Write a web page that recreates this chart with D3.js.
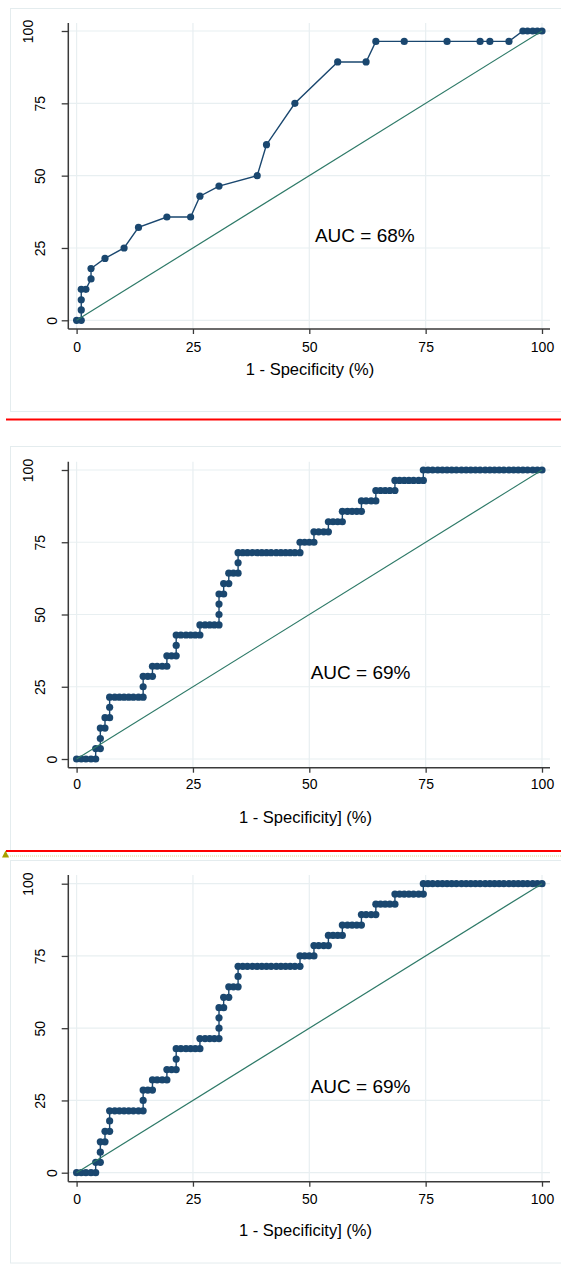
<!DOCTYPE html>
<html><head><meta charset="utf-8">
<script src="https://cdn.jsdelivr.net/npm/d3@7"></script>
<style>html,body{margin:0;padding:0;background:#fff;} svg{display:block;}</style>
</head><body>
<svg id="c" width="561" height="1269"></svg>
<script>
// ---------------- data ----------------
const tickValues = [0, 25, 50, 75, 100];

// Panel 1 ROC points (1 - specificity %, sensitivity %)
const roc1Fpr = [0, 1.0, 1.0, 1.0, 1.0, 2.0, 3.1, 3.1, 6.1, 10.2, 13.3, 19.4, 24.5, 26.5, 30.6, 38.8,
  40.8, 46.9, 56.1, 62.2, 64.3, 70.4, 79.6, 86.7, 88.8, 92.9, 95.9, 96.9, 98.0, 99.0, 100];
const roc1Tpr = [0, 0, 3.6, 7.1, 10.7, 10.7, 14.3, 17.9, 21.4, 25.0, 32.1, 35.7, 35.7, 42.9, 46.4, 50.0,
  60.7, 75.0, 89.3, 89.3, 96.4, 96.4, 96.4, 96.4, 96.4, 96.4, 100, 100, 100, 100, 100];

// Panels 2 and 3 ROC points (identical curves)
const roc2Fpr = [
  0, 1.0, 2.0, 3.1, 4.1,
  4.1, 5.1,
  5.1,
  5.1, 6.1,
  6.1, 7.1,
  7.1,
  7.1, 8.2, 9.2, 10.2, 11.2, 12.2, 13.3, 14.3,
  14.3,
  14.3, 15.3, 16.3,
  16.3, 17.3, 18.4, 19.4,
  19.4, 20.4, 21.4,
  21.4,
  21.4, 22.4, 23.5, 24.5, 25.5, 26.5,
  26.5, 27.6, 28.6, 29.6, 30.6,
  30.6,
  30.6,
  30.6, 31.6,
  31.6, 32.7,
  32.7, 33.7, 34.7,
  34.7,
  34.7, 35.7, 36.7, 37.8, 38.8, 39.8, 40.8, 41.8, 42.9, 43.9, 44.9, 45.9, 46.9, 48.0,
  48.0, 49.0, 50.0, 51.0,
  51.0, 52.0, 53.1, 54.1,
  54.1, 55.1, 56.1, 57.1,
  57.1, 58.2, 59.2, 60.2, 61.2,
  61.2, 62.2, 63.3, 64.3,
  64.3, 65.3, 66.3, 67.3, 68.4,
  68.4, 69.4, 70.4, 71.4, 72.4, 73.5, 74.5,
  74.5, 75.5, 76.5, 77.6, 78.6, 79.6, 80.6, 81.6, 82.7, 83.7, 84.7, 85.7, 86.7,
  87.8, 88.8, 89.8, 90.8, 91.8, 92.9, 93.9, 94.9, 95.9, 96.9, 98.0, 99.0, 100
];
const roc2Tpr = [
  0, 0, 0, 0, 0,
  3.6, 3.6,
  7.1,
  10.7, 10.7,
  14.3, 14.3,
  17.9,
  21.4, 21.4, 21.4, 21.4, 21.4, 21.4, 21.4, 21.4,
  25.0,
  28.6, 28.6, 28.6,
  32.1, 32.1, 32.1, 32.1,
  35.7, 35.7, 35.7,
  39.3,
  42.9, 42.9, 42.9, 42.9, 42.9, 42.9,
  46.4, 46.4, 46.4, 46.4, 46.4,
  50.0,
  53.6,
  57.1, 57.1,
  60.7, 60.7,
  64.3, 64.3, 64.3,
  67.9,
  71.4, 71.4, 71.4, 71.4, 71.4, 71.4, 71.4, 71.4, 71.4, 71.4, 71.4, 71.4, 71.4, 71.4,
  75.0, 75.0, 75.0, 75.0,
  78.6, 78.6, 78.6, 78.6,
  82.1, 82.1, 82.1, 82.1,
  85.7, 85.7, 85.7, 85.7, 85.7,
  89.3, 89.3, 89.3, 89.3,
  92.9, 92.9, 92.9, 92.9, 92.9,
  96.4, 96.4, 96.4, 96.4, 96.4, 96.4, 96.4,
  100, 100, 100, 100, 100, 100, 100, 100, 100, 100, 100, 100, 100,
  100, 100, 100, 100, 100, 100, 100, 100, 100, 100, 100, 100, 100
];
const roc3Fpr = roc2Fpr;
const roc3Tpr = roc2Tpr;

const aucLabels = ["AUC = 68%", "AUC = 69%", "AUC = 69%"];
const xTitles = ["1 - Specificity (%)", "1 - Specificity] (%)", "1 - Specificity] (%)"];
const aucPosX = [51.2, 50.3, 50.3];
const aucPosY = [27.0, 27.6, 27.5];

// ---------------- layout ----------------
const FONT = "'Liberation Sans', Arial, Helvetica, sans-serif";
const NAVY = "#1a476f", DIAG = "#2e7a68", GRID = "#e8eff1", AXIS = "#3a3a3a", FRAME = "#e4ecee";
const xLeft = 68.3, xRight = 550;
const panels = [
  {frameTop: 8.5, frameBottom: 411.5, axTop: 23, axBottom: 329, yTop: 31, yBottom: 320.3,
   tickBase: 351.7, titleBase: 375, titleX: 310, fpr: roc1Fpr, tpr: roc1Tpr},
  {frameTop: 446.5, frameBottom: 851, axTop: 461.7, axBottom: 767.7, yTop: 470, yBottom: 759,
   tickBase: 789, titleBase: 822.5, titleX: 305.5, fpr: roc2Fpr, tpr: roc2Tpr},
  {frameTop: 860.5, frameBottom: 1263, axTop: 875, axBottom: 1181.7, yTop: 883.7, yBottom: 1172.7,
   tickBase: 1204, titleBase: 1235.5, titleX: 305.5, fpr: roc3Fpr, tpr: roc3Tpr}
];

const svg = d3.select("#c");
svg.append("rect").attr("width", 561).attr("height", 1269).attr("fill", "#fff");

const x = d3.scaleLinear().domain([0, 100]).range([76.6, 542]);

panels.forEach((p, i) => {
  const y = d3.scaleLinear().domain([0, 100]).range([p.yBottom, p.yTop]);
  const g = svg.append("g");

  // frame
  g.append("rect").attr("x", 10.5).attr("y", p.frameTop).attr("width", 620)
    .attr("height", p.frameBottom - p.frameTop).attr("fill", "none").attr("stroke", FRAME).attr("stroke-width", 1);

  // grid
  g.selectAll(".hg").data(tickValues).enter().append("line")
    .attr("x1", xLeft).attr("x2", xRight).attr("y1", d => y(d)).attr("y2", d => y(d))
    .attr("stroke", GRID).attr("stroke-width", 1.2);
  g.selectAll(".vg").data(tickValues).enter().append("line")
    .attr("y1", p.axTop).attr("y2", p.axBottom).attr("x1", d => x(d)).attr("x2", d => x(d))
    .attr("stroke", GRID).attr("stroke-width", 1.2);

  // curve
  const pts = p.fpr.map((f, k) => [f, p.tpr[k]]);
  g.append("path").datum(pts)
    .attr("d", d3.line().x(d => x(d[0])).y(d => y(d[1])))
    .attr("fill", "none").attr("stroke", NAVY).attr("stroke-width", 1.4);
  g.selectAll(".pt").data(pts).enter().append("circle")
    .attr("cx", d => x(d[0])).attr("cy", d => y(d[1])).attr("r", 3.6).attr("fill", NAVY);

  // diagonal reference
  g.append("line").attr("x1", x(0)).attr("y1", y(0)).attr("x2", x(100)).attr("y2", y(100))
    .attr("stroke", DIAG).attr("stroke-width", 1.2);

  // x axis
  const xa = g.append("g").attr("transform", `translate(0,${p.axBottom})`)
    .call(d3.axisBottom(x).tickValues(tickValues).tickSize(5).tickPadding(3).tickFormat(d3.format("d")));
  xa.select(".domain").remove();
  xa.selectAll(".tick line").attr("stroke", AXIS).attr("stroke-width", 1.3);
  xa.selectAll(".tick text").attr("dy", null).attr("y", p.tickBase - p.axBottom)
    .attr("font-family", FONT).attr("font-size", 14).attr("fill", "#000");
  g.append("line").attr("x1", xLeft).attr("x2", xRight).attr("y1", p.axBottom).attr("y2", p.axBottom)
    .attr("stroke", AXIS).attr("stroke-width", 1.5);

  // y axis
  const ya = g.append("g").attr("transform", `translate(${xLeft},0)`)
    .call(d3.axisLeft(y).tickValues(tickValues).tickSize(6.6).tickFormat(d3.format("d")));
  ya.select(".domain").remove();
  ya.selectAll(".tick line").attr("stroke", AXIS).attr("stroke-width", 1.3);
  ya.selectAll(".tick text")
    .attr("font-family", FONT).attr("font-size", 14).attr("fill", "#000")
    .attr("x", null).attr("dy", null)
    .attr("text-anchor", "middle").attr("dominant-baseline", "central")
    .each(function () {
      const w = this.getComputedTextLength();
      const cx = -(4.5 + 1.55 * w);
      d3.select(this).attr("transform", `translate(${cx},0) rotate(-90)`);
    });
  g.append("line").attr("x1", xLeft).attr("x2", xLeft).attr("y1", p.axTop).attr("y2", p.axBottom)
    .attr("stroke", AXIS).attr("stroke-width", 1.5);

  // titles
  g.append("text").attr("x", p.titleX).attr("y", p.titleBase).attr("text-anchor", "middle")
    .attr("font-family", FONT).attr("font-size", 16.5).attr("fill", "#000").text(xTitles[i]);
  g.append("text").attr("x", x(aucPosX[i])).attr("y", y(aucPosY[i]))
    .attr("font-family", FONT).attr("font-size", 19).attr("fill", "#000").text(aucLabels[i]);
});

// separators between figures
svg.append("line").attr("x1", 6).attr("x2", 561).attr("y1", 419.5).attr("y2", 419.5)
  .attr("stroke", "#ff0000").attr("stroke-width", 2);
svg.append("line").attr("x1", 8).attr("x2", 561).attr("y1", 856).attr("y2", 856)
  .attr("stroke", "#d8d890").attr("stroke-width", 1).attr("stroke-dasharray", "1,1");
svg.append("line").attr("x1", 6).attr("x2", 561).attr("y1", 851).attr("y2", 851)
  .attr("stroke", "#ff0000").attr("stroke-width", 2);
svg.append("path").attr("d", "M2,857.5 L5.5,850.5 L9,857.5 Z").attr("fill", "#a8a000");
</script>
</body></html>
